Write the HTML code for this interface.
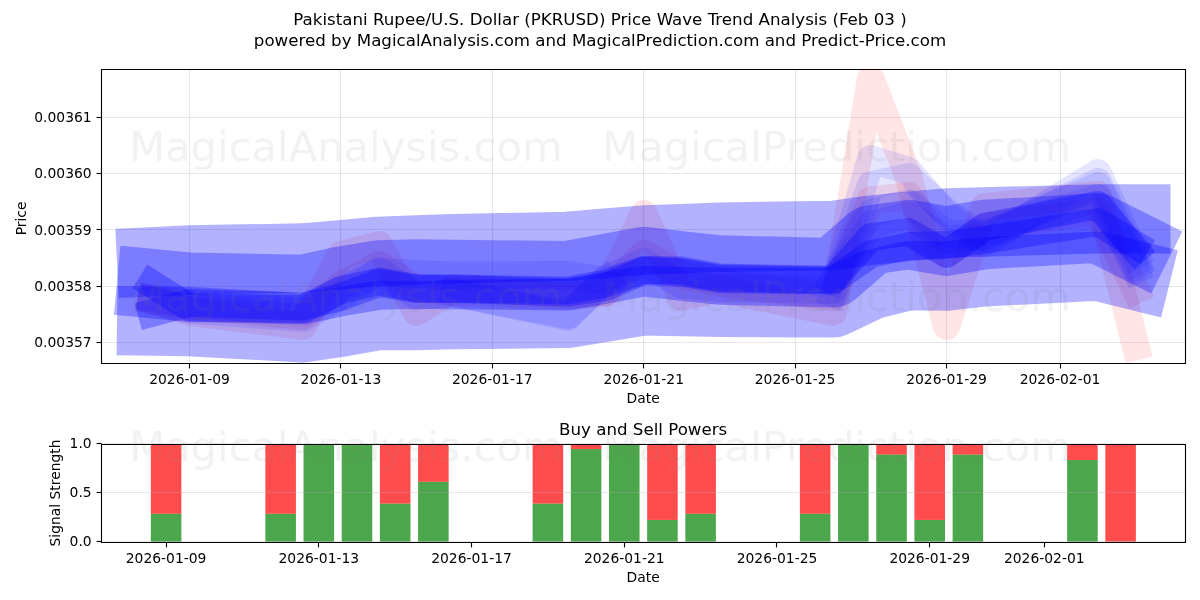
<!DOCTYPE html>
<html lang="en"><head><meta charset="utf-8"><title>PKRUSD Price Wave Trend Analysis</title>
<style>html,body{margin:0;padding:0;background:#fff}body{width:1200px;height:600px;overflow:hidden}</style></head>
<body>
<svg width="1200" height="600" viewBox="0 0 1200 600" style="display:block;font-family:'DejaVu Sans','Liberation Sans',sans-serif">
<rect width="1200" height="600" fill="#fff"/>
<defs>
<clipPath id="c1"><rect x="101.5" y="69.5" width="1084.0" height="294.0"/></clipPath>
<clipPath id="c2"><rect x="101.5" y="444.5" width="1084.0" height="98.0"/></clipPath>
</defs>
<g id="grid1">
<line x1="189.5" y1="69.5" x2="189.5" y2="363.5" stroke="#b0b0b0" stroke-opacity="0.3" stroke-width="1.11"/>
<line x1="340.5" y1="69.5" x2="340.5" y2="363.5" stroke="#b0b0b0" stroke-opacity="0.3" stroke-width="1.11"/>
<line x1="492.5" y1="69.5" x2="492.5" y2="363.5" stroke="#b0b0b0" stroke-opacity="0.3" stroke-width="1.11"/>
<line x1="643.5" y1="69.5" x2="643.5" y2="363.5" stroke="#b0b0b0" stroke-opacity="0.3" stroke-width="1.11"/>
<line x1="795.5" y1="69.5" x2="795.5" y2="363.5" stroke="#b0b0b0" stroke-opacity="0.3" stroke-width="1.11"/>
<line x1="946.5" y1="69.5" x2="946.5" y2="363.5" stroke="#b0b0b0" stroke-opacity="0.3" stroke-width="1.11"/>
<line x1="1060.5" y1="69.5" x2="1060.5" y2="363.5" stroke="#b0b0b0" stroke-opacity="0.3" stroke-width="1.11"/>
<line x1="101.5" y1="117.5" x2="1185.5" y2="117.5" stroke="#b0b0b0" stroke-opacity="0.3" stroke-width="1.11"/>
<line x1="101.5" y1="173.5" x2="1185.5" y2="173.5" stroke="#b0b0b0" stroke-opacity="0.3" stroke-width="1.11"/>
<line x1="101.5" y1="229.5" x2="1185.5" y2="229.5" stroke="#b0b0b0" stroke-opacity="0.3" stroke-width="1.11"/>
<line x1="101.5" y1="286.5" x2="1185.5" y2="286.5" stroke="#b0b0b0" stroke-opacity="0.3" stroke-width="1.11"/>
<line x1="101.5" y1="342.5" x2="1185.5" y2="342.5" stroke="#b0b0b0" stroke-opacity="0.3" stroke-width="1.11"/>
</g>
<g id="waves" clip-path="url(#c1)" fill="none" stroke-linejoin="round" stroke-linecap="square">
<path d="M151.7,300.0 L189.5,312.0 L303.1,326.0 L340.9,255.0 L378.8,245.0 L416.6,312.0 L454.4,288.0 L568.0,294.0 L605.9,292.0 L643.7,214.0 L681.5,297.0 L719.4,289.0 L833.0,312.0 L870.8,79.0 L908.6,177.0 L946.5,326.0 L984.4,207.0 L1097.9,194.7 L1135.8,346.4" stroke="#ff0000" stroke-opacity="0.1" stroke-width="27.8"/>
<path d="M151.7,300.0 L189.5,306.0 L303.1,316.0 L340.9,285.5 L378.8,265.0 L416.6,288.6 L454.4,292.0 L568.0,296.0 L605.9,293.0 L643.7,253.5 L681.5,275.0 L719.4,282.6 L833.0,297.0 L870.8,200.0 L908.6,196.0 L946.5,254.0 L984.4,227.0 L1097.9,211.0 L1135.8,290.0" stroke="#ff0000" stroke-opacity="0.1" stroke-width="27.8"/>
<path d="M151.7,300.0 L189.5,310.0 L303.1,318.0 L340.9,296.0 L378.8,271.4 L416.6,296.0 L454.4,293.0 L568.0,317.0 L605.9,279.0 L643.7,262.0 L681.5,285.0 L719.4,288.0 L833.0,290.0 L870.8,159.0 L908.6,171.0 L946.5,215.0 L984.4,243.0 L1097.9,173.0 L1135.8,255.0" stroke="#0000ff" stroke-opacity="0.1" stroke-width="27.8"/>
<path d="M151.7,298.0 L189.5,304.0 L303.1,312.0 L340.9,290.0 L378.8,272.0 L416.6,274.0 L454.4,275.5 L568.0,274.7 L605.9,281.0 L643.7,269.7 L681.5,272.0 L719.4,278.0 L833.0,282.0 L870.8,225.0 L908.6,215.0 L946.5,240.0 L984.4,236.0 L1097.9,186.0 L1135.8,270.0" stroke="#0000ff" stroke-opacity="0.1" stroke-width="27.8"/>
<path d="M454.4,293.0 L568.0,315.0 L605.9,280.0 M833.0,293.5 L870.8,185.0 L908.6,177.0 L946.5,212.0 L984.4,238.0 L1097.9,182.0 L1135.8,262.0" stroke="#0000ff" stroke-opacity="0.1" stroke-width="27.8"/>
<path d="M833.0,280.9 L870.8,213.0 L908.6,203.0 L946.5,234.0 L984.4,233.0 L1097.9,198.0 L1135.8,266.0" stroke="#0000ff" stroke-opacity="0.1" stroke-width="27.8"/>
<path d="M151.7,261.8 L189.5,260.0 L303.1,258.0 L340.9,254.7 L378.8,251.4 L416.6,250.0 L454.4,248.7 L568.0,246.4 L605.9,243.2 L643.7,240.0 L681.5,238.7 L719.4,237.2 L833.0,235.5 L870.8,230.2 L908.6,226.4 L946.5,223.0 L984.4,222.0 L1097.9,218.9 L1135.8,218.9" stroke="#0000ff" stroke-opacity="0.3" stroke-width="69.4"/>
<path d="M151.7,321.1 L189.5,321.6 L303.1,327.8 L340.9,322.1 L378.8,315.3 L416.6,315.6 L454.4,314.6 L568.0,313.3 L605.9,307.0 L643.7,300.8 L681.5,301.6 L719.4,302.3 L833.0,302.8 L870.8,284.8 L908.6,275.6 L946.5,276.1 L984.4,271.8 L1097.9,266.1 L1135.8,275.5" stroke="#0000ff" stroke-opacity="0.3" stroke-width="69.4"/>
<path d="M151.7,283.6 L189.5,287.2 L303.1,289.4 L340.9,281.3 L378.8,275.0 L416.6,274.0 L454.4,274.5 L568.0,275.7 L605.9,268.6 L643.7,261.5 L681.5,266.0 L719.4,270.0 L833.0,272.8 L870.8,240.0 L908.6,234.5 L946.5,241.2 L984.4,234.5 L1097.9,228.0 L1135.8,247.0" stroke="#0000ff" stroke-opacity="0.3" stroke-width="69.4"/>
<path d="M151.7,313.0 L189.5,303.0 L303.1,306.5 L340.9,297.0 L378.8,283.0 L416.6,289.0 L454.4,289.0 L568.0,292.5 L605.9,287.0 L643.7,271.0 L681.5,272.5 L719.4,279.0 L833.0,280.3 L870.8,254.0 L908.6,246.0 L946.5,245.0 L984.4,240.0 L1097.9,222.0 L1135.8,245.0" stroke="#0000ff" stroke-opacity="0.3" stroke-width="27.8"/>
<path d="M151.7,283.8 L189.5,307.5 L303.1,309.0 L340.9,290.0 L378.8,281.5 L416.6,288.0 L454.4,288.5 L568.0,290.3 L605.9,283.5 L643.7,270.0 L681.5,270.3 L719.4,277.5 L833.0,279.7 L870.8,237.0 L908.6,232.0 L946.5,254.0 L984.4,227.0 L1097.9,205.0 L1135.8,250.0" stroke="#0000ff" stroke-opacity="0.3" stroke-width="27.8"/>
</g>
<g id="ticks1">
<line x1="189.5" y1="363.5" x2="189.5" y2="368.4" stroke="#000" stroke-width="1.11"/>
<text x="189.50" y="384" font-size="13.89" text-anchor="middle">2026-01-09</text>
<line x1="340.5" y1="363.5" x2="340.5" y2="368.4" stroke="#000" stroke-width="1.11"/>
<text x="340.90" y="384" font-size="13.89" text-anchor="middle">2026-01-13</text>
<line x1="492.5" y1="363.5" x2="492.5" y2="368.4" stroke="#000" stroke-width="1.11"/>
<text x="492.30" y="384" font-size="13.89" text-anchor="middle">2026-01-17</text>
<line x1="643.5" y1="363.5" x2="643.5" y2="368.4" stroke="#000" stroke-width="1.11"/>
<text x="643.70" y="384" font-size="13.89" text-anchor="middle">2026-01-21</text>
<line x1="795.5" y1="363.5" x2="795.5" y2="368.4" stroke="#000" stroke-width="1.11"/>
<text x="795.10" y="384" font-size="13.89" text-anchor="middle">2026-01-25</text>
<line x1="946.5" y1="363.5" x2="946.5" y2="368.4" stroke="#000" stroke-width="1.11"/>
<text x="946.50" y="384" font-size="13.89" text-anchor="middle">2026-01-29</text>
<line x1="1060.5" y1="363.5" x2="1060.5" y2="368.4" stroke="#000" stroke-width="1.11"/>
<text x="1060.05" y="384" font-size="13.89" text-anchor="middle">2026-02-01</text>
<line x1="96.6" y1="117.5" x2="101.5" y2="117.5" stroke="#000" stroke-width="1.11"/>
<text x="91.7" y="122.17" font-size="13.89" text-anchor="end">0.00361</text>
<line x1="96.6" y1="173.5" x2="101.5" y2="173.5" stroke="#000" stroke-width="1.11"/>
<text x="91.7" y="178.42" font-size="13.89" text-anchor="end">0.00360</text>
<line x1="96.6" y1="229.5" x2="101.5" y2="229.5" stroke="#000" stroke-width="1.11"/>
<text x="91.7" y="234.67" font-size="13.89" text-anchor="end">0.00359</text>
<line x1="96.6" y1="286.5" x2="101.5" y2="286.5" stroke="#000" stroke-width="1.11"/>
<text x="91.7" y="290.92" font-size="13.89" text-anchor="end">0.00358</text>
<line x1="96.6" y1="342.5" x2="101.5" y2="342.5" stroke="#000" stroke-width="1.11"/>
<text x="91.7" y="347.17" font-size="13.89" text-anchor="end">0.00357</text>
</g>
<path d="M101.5,68.95V364.05M1185.5,68.95V364.05M100.95,69.5H1186.05M100.95,363.5H1186.05" stroke="#000" stroke-width="1.11" fill="none"/>
<text x="643.2" y="402.6" font-size="13.89" text-anchor="middle">Date</text>
<text transform="translate(25.6,218.4) rotate(-90)" font-size="13.89" text-anchor="middle">Price</text>
<g id="bars" clip-path="url(#c2)">
<rect x="150.82" y="513.70" width="30.55" height="28.02" fill="#008000" fill-opacity="0.7"/>
<rect x="150.82" y="443.64" width="30.55" height="70.06" fill="#ff0000" fill-opacity="0.7"/>
<rect x="265.37" y="513.70" width="30.55" height="28.02" fill="#008000" fill-opacity="0.7"/>
<rect x="265.37" y="443.64" width="30.55" height="70.06" fill="#ff0000" fill-opacity="0.7"/>
<rect x="303.55" y="443.64" width="30.55" height="98.08" fill="#008000" fill-opacity="0.7"/>
<rect x="341.73" y="443.64" width="30.55" height="98.08" fill="#008000" fill-opacity="0.7"/>
<rect x="379.90" y="503.58" width="30.55" height="38.14" fill="#008000" fill-opacity="0.7"/>
<rect x="379.90" y="443.64" width="30.55" height="59.94" fill="#ff0000" fill-opacity="0.7"/>
<rect x="418.09" y="481.78" width="30.55" height="59.94" fill="#008000" fill-opacity="0.7"/>
<rect x="418.09" y="443.64" width="30.55" height="38.14" fill="#ff0000" fill-opacity="0.7"/>
<rect x="532.62" y="503.58" width="30.55" height="38.14" fill="#008000" fill-opacity="0.7"/>
<rect x="532.62" y="443.64" width="30.55" height="59.94" fill="#ff0000" fill-opacity="0.7"/>
<rect x="570.81" y="449.09" width="30.55" height="92.63" fill="#008000" fill-opacity="0.7"/>
<rect x="570.81" y="443.64" width="30.55" height="5.45" fill="#ff0000" fill-opacity="0.7"/>
<rect x="608.99" y="443.64" width="30.55" height="98.08" fill="#008000" fill-opacity="0.7"/>
<rect x="647.16" y="519.92" width="30.55" height="21.80" fill="#008000" fill-opacity="0.7"/>
<rect x="647.16" y="443.64" width="30.55" height="76.28" fill="#ff0000" fill-opacity="0.7"/>
<rect x="685.35" y="513.70" width="30.55" height="28.02" fill="#008000" fill-opacity="0.7"/>
<rect x="685.35" y="443.64" width="30.55" height="70.06" fill="#ff0000" fill-opacity="0.7"/>
<rect x="799.88" y="513.70" width="30.55" height="28.02" fill="#008000" fill-opacity="0.7"/>
<rect x="799.88" y="443.64" width="30.55" height="70.06" fill="#ff0000" fill-opacity="0.7"/>
<rect x="838.07" y="443.64" width="30.55" height="98.08" fill="#008000" fill-opacity="0.7"/>
<rect x="876.25" y="454.54" width="30.55" height="87.18" fill="#008000" fill-opacity="0.7"/>
<rect x="876.25" y="443.64" width="30.55" height="10.90" fill="#ff0000" fill-opacity="0.7"/>
<rect x="914.43" y="519.92" width="30.55" height="21.80" fill="#008000" fill-opacity="0.7"/>
<rect x="914.43" y="443.64" width="30.55" height="76.28" fill="#ff0000" fill-opacity="0.7"/>
<rect x="952.61" y="454.54" width="30.55" height="87.18" fill="#008000" fill-opacity="0.7"/>
<rect x="952.61" y="443.64" width="30.55" height="10.90" fill="#ff0000" fill-opacity="0.7"/>
<rect x="1067.14" y="459.99" width="30.55" height="81.73" fill="#008000" fill-opacity="0.7"/>
<rect x="1067.14" y="443.64" width="30.55" height="16.35" fill="#ff0000" fill-opacity="0.7"/>
<rect x="1105.32" y="443.64" width="30.55" height="98.08" fill="#ff0000" fill-opacity="0.7"/>
</g>
<g id="grid2">
<line x1="101.5" y1="541.5" x2="1185.5" y2="541.5" stroke="#b0b0b0" stroke-opacity="0.3" stroke-width="1.11"/>
<line x1="101.5" y1="492.5" x2="1185.5" y2="492.5" stroke="#b0b0b0" stroke-opacity="0.3" stroke-width="1.11"/>
<line x1="101.5" y1="443.5" x2="1185.5" y2="443.5" stroke="#b0b0b0" stroke-opacity="0.3" stroke-width="1.11"/>
</g>
<g id="ticks2">
<line x1="166.5" y1="542.5" x2="166.5" y2="547.4" stroke="#000" stroke-width="1.11"/>
<text x="166.10" y="562.7" font-size="13.89" text-anchor="middle">2026-01-09</text>
<line x1="318.5" y1="542.5" x2="318.5" y2="547.4" stroke="#000" stroke-width="1.11"/>
<text x="318.82" y="562.7" font-size="13.89" text-anchor="middle">2026-01-13</text>
<line x1="471.5" y1="542.5" x2="471.5" y2="547.4" stroke="#000" stroke-width="1.11"/>
<text x="471.54" y="562.7" font-size="13.89" text-anchor="middle">2026-01-17</text>
<line x1="624.5" y1="542.5" x2="624.5" y2="547.4" stroke="#000" stroke-width="1.11"/>
<text x="624.26" y="562.7" font-size="13.89" text-anchor="middle">2026-01-21</text>
<line x1="776.5" y1="542.5" x2="776.5" y2="547.4" stroke="#000" stroke-width="1.11"/>
<text x="776.98" y="562.7" font-size="13.89" text-anchor="middle">2026-01-25</text>
<line x1="929.5" y1="542.5" x2="929.5" y2="547.4" stroke="#000" stroke-width="1.11"/>
<text x="929.70" y="562.7" font-size="13.89" text-anchor="middle">2026-01-29</text>
<line x1="1044.5" y1="542.5" x2="1044.5" y2="547.4" stroke="#000" stroke-width="1.11"/>
<text x="1044.24" y="562.7" font-size="13.89" text-anchor="middle">2026-02-01</text>
<line x1="96.6" y1="541.5" x2="101.5" y2="541.5" stroke="#000" stroke-width="1.11"/>
<text x="91.7" y="546.42" font-size="13.89" text-anchor="end">0.0</text>
<line x1="96.6" y1="492.5" x2="101.5" y2="492.5" stroke="#000" stroke-width="1.11"/>
<text x="91.7" y="497.38" font-size="13.89" text-anchor="end">0.5</text>
<line x1="96.6" y1="443.5" x2="101.5" y2="443.5" stroke="#000" stroke-width="1.11"/>
<text x="91.7" y="448.34" font-size="13.89" text-anchor="end">1.0</text>
</g>
<path d="M101.5,443.95V543.05M1185.5,443.95V543.05M100.95,444.5H1186.05M100.95,542.5H1186.05" stroke="#000" stroke-width="1.11" fill="none"/>
<text x="643.2" y="582.2" font-size="13.89" text-anchor="middle">Date</text>
<text transform="translate(59.7,493.0) rotate(-90)" font-size="13.89" text-anchor="middle">Signal Strength</text>
<text x="643.2" y="434.8" font-size="16.67" text-anchor="middle">Buy and Sell Powers</text>
<text x="600" y="25.1" font-size="16.67" text-anchor="middle">Pakistani Rupee/U.S. Dollar (PKRUSD) Price Wave Trend Analysis (Feb 03 )</text>
<text x="600" y="46.1" font-size="16.67" text-anchor="middle">powered by MagicalAnalysis.com and MagicalPrediction.com and Predict-Price.com</text>
<g id="wm" fill="#808080" fill-opacity="0.1" font-size="41.67" text-anchor="middle" style="white-space:pre">
<text x="600" y="161.4" xml:space="preserve">MagicalAnalysis.com   MagicalPrediction.com</text>
<text x="600" y="311.4" xml:space="preserve">MagicalAnalysis.com   MagicalPrediction.com</text>
<text x="600" y="461.4" xml:space="preserve">MagicalAnalysis.com   MagicalPrediction.com</text>
</g>
</svg>
</body></html>
